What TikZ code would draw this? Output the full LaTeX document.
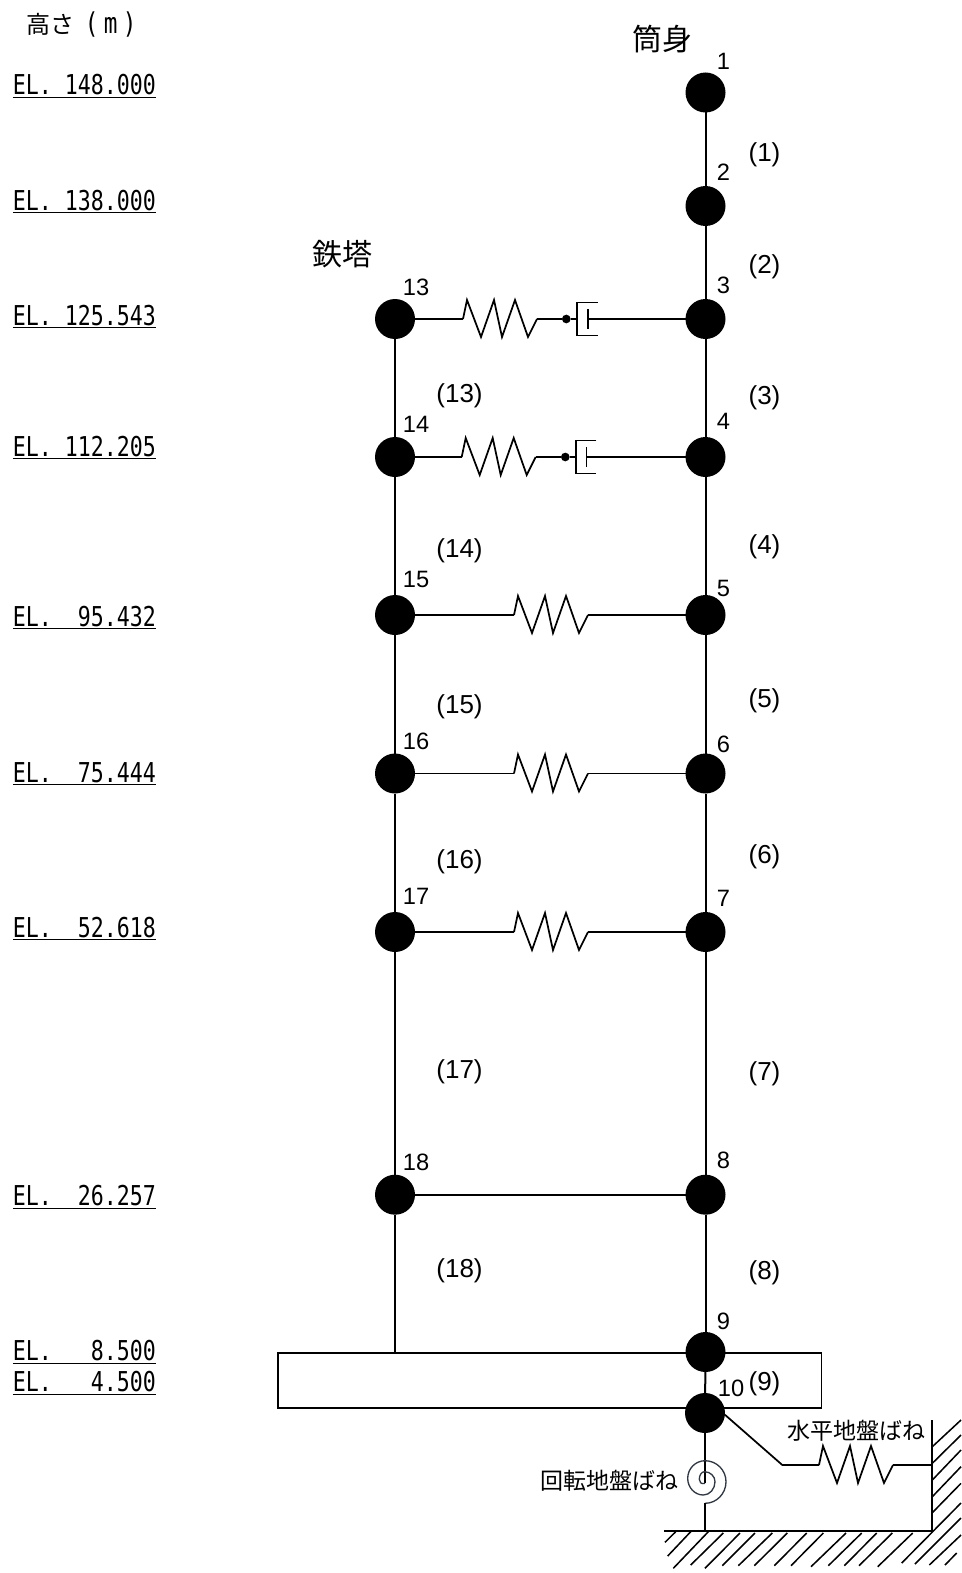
\documentclass[tikz,border=0pt]{standalone}
\usepackage{fontspec}
\setmainfont{Liberation Sans}
\newfontfamily\jpfont{Noto Sans CJK JP}
\newfontfamily\elfont[FakeStretch=0.79]{DejaVu Sans Mono}
\usetikzlibrary{positioning, calc}
\definecolor{spiralcol}{RGB}{50,56,66}

\begin{document}
\begin{tikzpicture}[
	x=0.75pt,
	y=-0.75pt,
	line join=miter,
	massnode/.style={
		circle,
		fill=black,
		minimum size=30pt,
		inner sep=0pt,
		outer sep=0pt
	},
	dotnode/.style={
		circle,
		fill=black,
		minimum size=6.5pt,
		inner sep=0pt,
		outer sep=0pt
	},
	numlabel/.style={
		inner sep=0pt,
		font=\fontsize{17.75}{20}\selectfont
	},
	memlabel/.style={
		inner sep=0pt,
		font=\fontsize{19.5}{22}\selectfont
	},
	ellabel/.style={
		anchor=base west,
		inner sep=0pt,
		font=\fontsize{20.5}{24}\elfont
	},
	bigtext/.style={
		inner sep=0pt,
		font=\fontsize{22.5}{26}\jpfont
	},
	springtext/.style={
		inner sep=0pt,
		font=\fontsize{17.25}{20}\jpfont
	},
	column/.style={line width=1.5pt},
	wire/.style={line width=1.3pt},
	hatchline/.style={line width=1.15pt},
	springpic/.pic={
		\coordinate (-in) at (0,0);
		\coordinate (-out) at (74,0);
		\draw[wire] (0,0) -- (4,-19) -- (18,18) -- (31,-19) -- (39,18) -- (52,-19) -- (65,18) -- (74,0);
	},
	dashpic/.pic={
		\coordinate (-in) at (0,0);
		\coordinate (-out) at (10.4,0);
		\draw[wire] (20.4,-16.5) -- (0,-16.5) -- (0,16.5) -- (20.4,16.5);
		\draw[wire] (10.4,-9.7) -- (10.4,9.7);
	}
	]
	\useasboundingbox (0,0) rectangle (961,1573);

	% Elevations
	\node[inner sep=0pt, anchor=base west] (title) at (26,33.5) {\fontsize{18}{20}\jpfont 高さ\hspace{8pt}\fontsize{21.5}{24}\elfont (\hspace{4pt}m\hspace{4pt})};
	\node[ellabel] (el1) at (12.5,95) {\underline{EL.~148.000}};
	\node[ellabel] (el2) at (12.5,210) {\underline{EL.~138.000}};
	\node[ellabel] (el3) at (12.5,325) {\underline{EL.~125.543}};
	\node[ellabel] (el4) at (12.5,456) {\underline{EL.~112.205}};
	\node[ellabel] (el5) at (12.5,626) {\underline{EL.~~95.432}};
	\node[ellabel] (el6) at (12.5,782) {\underline{EL.~~75.444}};
	\node[ellabel] (el7) at (12.5,937) {\underline{EL.~~52.618}};
	\node[ellabel] (el8) at (12.5,1205.5) {\underline{EL.~~26.257}};
	\node[ellabel] (el9) at (12.5,1360.5) {\underline{EL.~~~8.500}};
	\node[ellabel] (el10) at (12.5,1391.5) {\underline{EL.~~~4.500}};

	% Titles
	\node[bigtext] (titleA) at (662,39) {筒身};
	\node[bigtext] (titleB) at (342,254) {鉄塔};

	% Base mat
	\node[draw, line width=1.1pt, minimum width=407.5pt, minimum height=41.25pt, inner sep=0pt, outer sep=0pt, anchor=north west] (mat) at (278,1353) {};

	% Masses
	\node[massnode] (n1) at (705.5,92.5) {};
	\node[massnode] (n2) at (705.5,206) {};
	\node[massnode] (n3) at (705.5,319) {};
	\node[massnode] (n4) at (705.5,457) {};
	\node[massnode] (n5) at (705.5,615) {};
	\node[massnode] (n6) at (705.5,773.5) {};
	\node[massnode] (n7) at (705.5,932) {};
	\node[massnode] (n8) at (705.5,1194.7) {};
	\node[massnode] (n9) at (705.5,1352) {};
	\node[massnode] (n10) at (705,1413) {};
	\node[massnode] (n13) at (395,319) {};
	\node[massnode] (n14) at (395,457) {};
	\node[massnode] (n15) at (395,615) {};
	\node[massnode] (n16) at (395,773.5) {};
	\node[massnode] (n17) at (395,932) {};
	\node[massnode] (n18) at (395,1194.7) {};

	% Mass numbers
	\node[numlabel] (lab1) at (723.5,61) {1};
	\node[numlabel] (lab2) at (723.5,172.5) {2};
	\node[numlabel] (lab3) at (723.5,285.5) {3};
	\node[numlabel] (lab4) at (723.5,421) {4};
	\node[numlabel] (lab5) at (723.5,588.5) {5};
	\node[numlabel] (lab6) at (723.5,744) {6};
	\node[numlabel] (lab7) at (723.5,898.5) {7};
	\node[numlabel] (lab8) at (723.5,1160) {8};
	\node[numlabel] (lab9) at (723.5,1321.5) {9};
	\node[numlabel] (lab10) at (731,1388.5) {10};
	\node[numlabel] (lab13) at (416,287.5) {13};
	\node[numlabel] (lab14) at (416,424) {14};
	\node[numlabel] (lab15) at (416,579) {15};
	\node[numlabel] (lab16) at (416,741) {16};
	\node[numlabel] (lab17) at (416,896) {17};
	\node[numlabel] (lab18) at (416,1162) {18};

	% Member numbers
	\node[memlabel] (mem1) at (764.5,155) {(1)};
	\node[memlabel] (mem2) at (764.5,266.5) {(2)};
	\node[memlabel] (mem3) at (764.5,397.5) {(3)};
	\node[memlabel] (mem4) at (764.5,546.5) {(4)};
	\node[memlabel] (mem5) at (764.5,700.5) {(5)};
	\node[memlabel] (mem6) at (764.5,856.5) {(6)};
	\node[memlabel] (mem7) at (764.5,1073.5) {(7)};
	\node[memlabel] (mem8) at (764.5,1272.5) {(8)};
	\node[memlabel] (mem9) at (764.5,1383.5) {(9)};
	\node[memlabel] (mem13) at (459.5,395.5) {(13)};
	\node[memlabel] (mem14) at (459.5,550.5) {(14)};
	\node[memlabel] (mem15) at (459.5,706.5) {(15)};
	\node[memlabel] (mem16) at (459.5,861.5) {(16)};
	\node[memlabel] (mem17) at (459.5,1071.5) {(17)};
	\node[memlabel] (mem18) at (459.5,1270.5) {(18)};

	% Columns
	\draw[column] (n1) -- (n2);
	\draw[column] (n2) -- (n3);
	\draw[column] (n3) -- (n4);
	\draw[column] (n4) -- (n5);
	\draw[column] (n5) -- (n6);
	\draw[column] (n6) -- (n7);
	\draw[column] (n7) -- (n8);
	\draw[column] (n8) -- (n9);
	\draw[column] (n9) -- (n10);
	\draw[column] (n13) -- (n14);
	\draw[column] (n14) -- (n15);
	\draw[column] (n15) -- (n16);
	\draw[column] (n16) -- (n17);
	\draw[column] (n17) -- (n18);
	\draw[column] (n18) -- (n18|-mat.north);

	% Links with damper
	\pic (s13) at (463,319) {springpic};
	\pic (d13) at (577.3,319) {dashpic};
	\node[dotnode] (dot13) at (566.3,319) {};
	\draw[wire] (n13) -- (s13-in);
	\draw[wire] (s13-out) -- (dot13) -- (d13-in);
	\draw[wire] (d13-out) -- (n3);
	\pic (s14) at (461.7,457) {springpic};
	\pic (d14) at (576,457) {dashpic};
	\node[dotnode] (dot14) at (565.3,457) {};
	\draw[wire] (n14) -- (s14-in);
	\draw[wire] (s14-out) -- (dot14) -- (d14-in);
	\draw[wire] (d14-out) -- (n4);

	% Links with spring only
	\pic (s15) at (514,615) {springpic};
	\draw[wire] (n15) -- (s15-in);
	\draw[wire] (s15-out) -- (n5);
	\pic (s16) at (514,773.5) {springpic};
	\draw[wire] (n16) -- (s16-in);
	\draw[wire] (s16-out) -- (n6);
	\pic (s17) at (514,932) {springpic};
	\draw[wire] (n17) -- (s17-in);
	\draw[wire] (s17-out) -- (n7);
	\draw[wire] (n18) -- (n8);

	% Ground and wall
	\coordinate (g0) at (664.3,1531);
	\coordinate (g1) at (931.7,1531);
	\coordinate (w0) at (931.7,1420);
	\draw[column] (g0) -- (g1) -- (w0);
	\foreach \xa/\ya/\xb/\yb in {675.7/1531.7/665/1542.3, 690.7/1531.7/667.7/1556, 708.3/1531.7/673.3/1568.3, 723.3/1533/690.7/1565, 740/1533/705/1568.3, 755/1533/722.3/1565.7, 772.3/1533/738.3/1565.7, 787.3/1533/754.3/1565.7, 806.7/1533/774.3/1565.7, 823.3/1533/791/1565.7, 846/1533/811/1566.7, 861.7/1533/828.3/1565.7, 876.7/1533/844.3/1565.7, 892.3/1533/859/1565.7, 912.7/1533/877.7/1566.7, 961/1420/932.3/1446.7, 961/1435/932.3/1463.3, 961/1450/932.3/1480, 961/1466.7/932.3/1496.7, 961/1483.3/932.3/1512.7, 961/1503/901.7/1563, 961/1518/915/1564, 961/1535/929.3/1565, 956.7/1553/945/1565}
		\draw[hatchline] (\xa,\ya) -- (\xb,\yb);

	% Rotation spring
	\coordinate (sp0) at (705,1483.3);
	\coordinate (sp1) at (705,1503.3);
	\draw[column] (n10) -- (sp0);
	\draw[spiralcol, line width=1pt] (sp0)
		.. controls (701,1484.5) and (699.3,1482) .. (699.3,1479.3)
		.. controls (699.3,1475.1) and (701.6,1471.7) .. (704.5,1471.7)
		.. controls (710.3,1471.7) and (715,1476.2) .. (715,1481.7)
		.. controls (715,1489) and (709.7,1495) .. (703.3,1495)
		.. controls (694.7,1495) and (687.7,1487.5) .. (687.7,1478.3)
		.. controls (687.7,1468.6) and (695.5,1460.7) .. (705,1460.7)
		.. controls (716.6,1460.7) and (726,1470.1) .. (726,1481.7)
		.. controls (726,1493.6) and (716.6,1503.3) .. (sp1);
	\draw[column] (sp1) -- (sp1|-g0);
	\node[springtext] (rotlabel) at (609.5,1481) {回転地盤ばね};

	% Horizontal spring
	\coordinate (k1) at (782.3,1465);
	\coordinate (w1) at (931.7,1465);
	\pic (s10) at (819,1465) {springpic};
	\draw[wire] (n10.-5) -- (k1) -- (s10-in);
	\draw[wire] (s10-out) -- (w1);
	\node[springtext] (horlabel) at (856.5,1431) {水平地盤ばね};
\end{tikzpicture}
\end{document}
